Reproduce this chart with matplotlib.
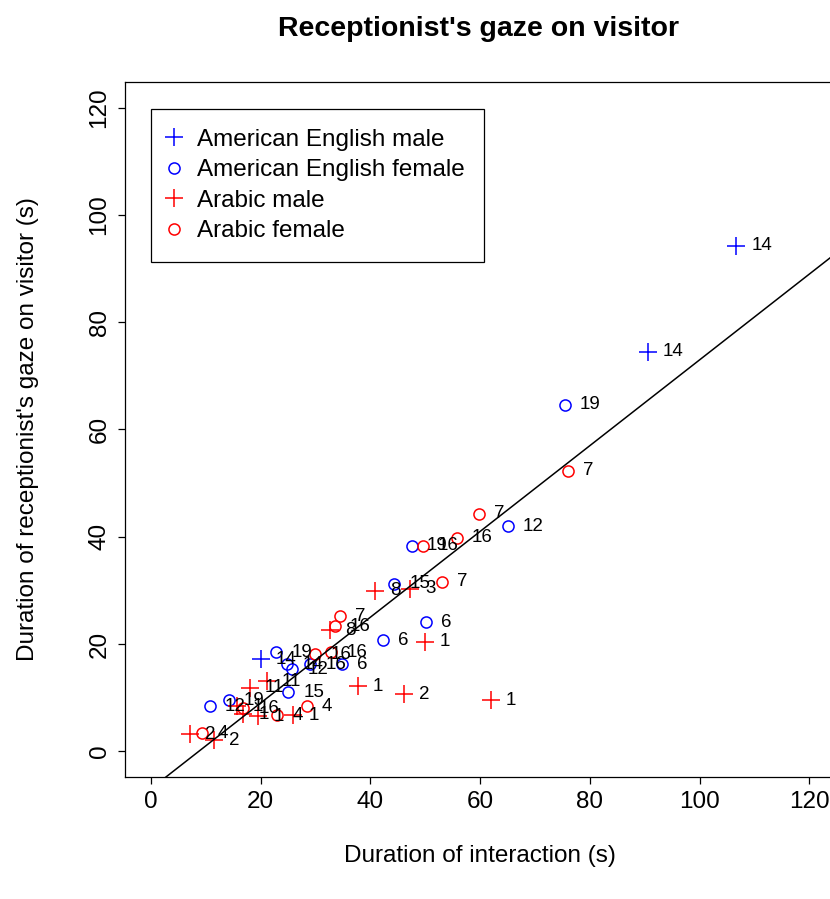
import matplotlib
matplotlib.use("Agg")
import matplotlib.pyplot as plt
import numpy as np

plt.rcParams['font.family'] = ['Liberation Sans', 'DejaVu Sans']

# American English male (+)
am_male_x = [106.6, 90.5, 20.0]
am_male_y = [94.3, 74.5, 17.2]
am_male_id = ["14", "14", "14"]

# American English female (o)
am_female_x = [75.4, 65.0, 47.5, 44.3, 50.1, 42.3, 34.8, 22.8, 24.8, 25.7, 29.0, 25.0, 14.2, 10.7]
am_female_y = [64.6, 42.0, 38.3, 31.2, 24.1, 20.7, 16.2, 18.5, 16.2, 15.3, 16.2, 11.0, 9.5, 8.4]
am_female_id = ["19", "12", "19", "15", "6", "6", "6", "19", "14", "12", "16", "15", "19", "12"]

# Arabic male (+)
ar_male_x = [61.9, 46.1, 37.7, 49.9, 47.2, 40.8, 32.6, 21.1, 18.0, 15.7, 16.8, 19.5, 25.9, 7.1, 11.5]
ar_male_y = [9.5, 10.6, 12.1, 20.4, 30.3, 29.9, 22.6, 13.1, 11.8, 8.4, 6.9, 6.5, 6.7, 3.2, 2.1]
ar_male_id = ["1", "2", "1", "1", "3", "8", "8", "11", "11", "1", "1", "1", "1", "2", "2"]

# Arabic female (o)
ar_female_x = [76.0, 59.7, 55.7, 49.5, 53.0, 34.4, 33.5, 29.9, 32.8, 28.4, 23.0, 16.8, 9.3]
ar_female_y = [52.3, 44.3, 39.8, 38.3, 31.6, 25.2, 23.3, 18.1, 18.5, 8.4, 6.7, 8.0, 3.4]
ar_female_id = ["7", "7", "16", "16", "7", "7", "16", "16", "16", "4", "4", "16", "4"]

# fitted line: gaze = intercept + slope * duration
fit_intercept = -7.0
fit_slope = 0.80

fig = plt.figure(figsize=(8.30, 8.99), dpi=100)
ax = fig.add_axes([0.150, 0.1357, 0.857, 0.7731])

groups = [
    (am_male_x, am_male_y, am_male_id, "+", "blue", 13, "American English male"),
    (am_female_x, am_female_y, am_female_id, "o", "blue", 8, "American English female"),
    (ar_male_x, ar_male_y, ar_male_id, "+", "red", 13, "Arabic male"),
    (ar_female_x, ar_female_y, ar_female_id, "o", "red", 8, "Arabic female"),
]

for xs, ys, ids, mk, col, ms, name in groups:
    ax.plot(xs, ys, linestyle="none", marker=mk, markersize=ms,
            markerfacecolor="none", markeredgecolor=col, markeredgewidth=1.1,
            label=name)
    for x, y, s in zip(xs, ys, ids):
        ax.annotate(s, (x, y), xytext=(11, 0), textcoords="offset points",
                    ha="left", va="center", fontsize=13.5, color="black")

xl = np.array([-10, 140])
ax.plot(xl, fit_intercept + fit_slope * xl, color="black", linewidth=1.1)

ax.set_xlim(-4.8, 124.8)
ax.set_ylim(-4.8, 124.8)
ax.set_xticks(np.arange(0, 121, 20))
ax.set_yticks(np.arange(0, 121, 20))
ax.tick_params(axis="both", labelsize=17.5, length=5, width=0.9, pad=5)
for lab in ax.get_yticklabels():
    lab.set_rotation(90)
    lab.set_va("center")
for sp in ax.spines.values():
    sp.set_linewidth(0.9)

ax.set_xlabel("Duration of interaction (s)", fontsize=17.5, labelpad=23)
ax.set_ylabel("Duration of receptionist's gaze on visitor (s)", fontsize=17.5, labelpad=36)
fig.text(0.576, 0.968, "Receptionist's gaze on visitor", ha="center", va="center",
         fontsize=20.5, fontweight="bold")

leg = ax.legend(loc="upper left", bbox_to_anchor=(0.037, 0.961), fontsize=17.5,
                frameon=True, fancybox=False, edgecolor="black", framealpha=1,
                borderpad=0.8, labelspacing=0.35, handletextpad=0.8,
                handlelength=0.3, borderaxespad=0)
leg.get_frame().set_linewidth(0.9)

fig.savefig("out.png", dpi=100)
